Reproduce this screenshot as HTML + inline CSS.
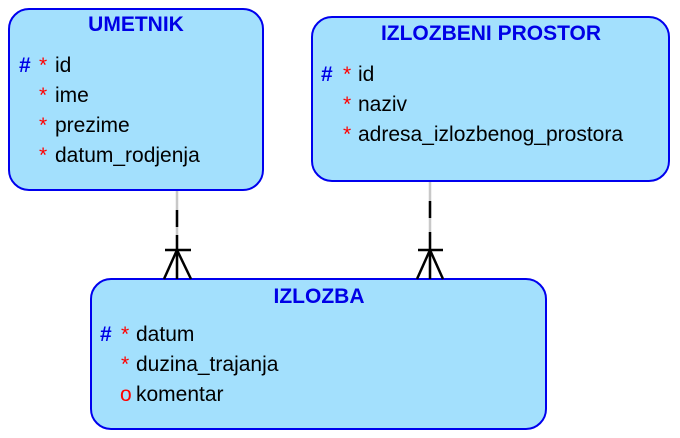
<!DOCTYPE html>
<html><head><meta charset="utf-8"><style>
html,body{margin:0;padding:0;background:#fff;}
svg{display:block;}
text{font-family:"Liberation Sans",Arial,sans-serif;font-size:21px;}
.t{font-weight:bold;fill:#0000e6;}
.h{fill:#0000e6;font-weight:bold;}
.s{fill:#ff0000;}
</style></head><body>
<svg width="680" height="438" viewBox="0 0 680 438">
<rect x="9" y="9" width="254" height="181" rx="20" fill="#a3e0fd" stroke="#0000ee" stroke-width="2"/>
<rect x="312" y="17" width="357" height="164" rx="20" fill="#a3e0fd" stroke="#0000ee" stroke-width="2"/>
<rect x="91" y="279" width="455" height="150" rx="20" fill="#a3e0fd" stroke="#0000ee" stroke-width="2"/>

<g stroke-width="2.5">
<line x1="177" y1="191" x2="177" y2="278" stroke="#c8c8c8"/>
<line x1="177" y1="210" x2="177" y2="227" stroke="#000"/>
<line x1="177" y1="235" x2="177" y2="279" stroke="#000"/>
<line x1="165" y1="250" x2="191" y2="250" stroke="#000"/>
<line x1="177" y1="250" x2="164" y2="279" stroke="#000"/>
<line x1="177" y1="250" x2="191" y2="279" stroke="#000"/>

<line x1="430" y1="182" x2="430" y2="278" stroke="#c8c8c8"/>
<line x1="430" y1="201" x2="430" y2="218" stroke="#000"/>
<line x1="430" y1="232" x2="430" y2="279" stroke="#000"/>
<line x1="418" y1="250" x2="443" y2="250" stroke="#000"/>
<line x1="430" y1="250" x2="417" y2="279" stroke="#000"/>
<line x1="430" y1="250" x2="443" y2="279" stroke="#000"/>
</g>

<text class="t" x="136" y="31" text-anchor="middle">UMETNIK</text>
<text class="h" x="19" y="72">#</text><text class="s" x="39" y="72">*</text><text x="55" y="72">id</text>
<text class="s" x="39" y="102">*</text><text x="55" y="102">ime</text>
<text class="s" x="39" y="132">*</text><text x="55" y="132">prezime</text>
<text class="s" x="39" y="162">*</text><text x="55" y="162">datum_rodjenja</text>

<text class="t" x="491" y="40" text-anchor="middle">IZLOZBENI PROSTOR</text>
<text class="h" x="321" y="81">#</text><text class="s" x="343" y="81">*</text><text x="358" y="81">id</text>
<text class="s" x="343" y="111">*</text><text x="358" y="111">naziv</text>
<text class="s" x="343" y="141">*</text><text x="358" y="141">adresa_izlozbenog_prostora</text>

<text class="t" x="319" y="303" text-anchor="middle">IZLOZBA</text>
<text class="h" x="100" y="341">#</text><text class="s" x="121" y="341">*</text><text x="136" y="341">datum</text>
<text class="s" x="121" y="371">*</text><text x="136" y="371">duzina_trajanja</text>
<text class="s" x="120" y="401">o</text><text x="136" y="401">komentar</text>
</svg>
</body></html>
